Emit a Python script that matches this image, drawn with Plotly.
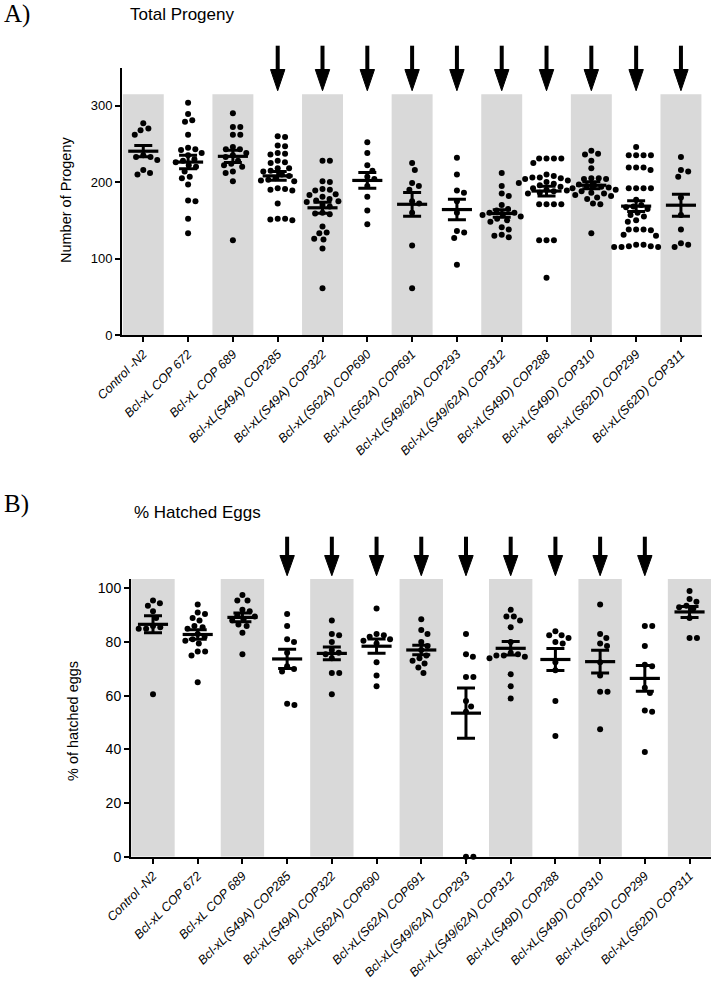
import numpy as np
import plotly.graph_objects as go

# ---------------- data ----------------
categories = ["Control -N2", "Bcl-xL COP 672", "Bcl-xL COP 689", "Bcl-xL(S49A) COP285",
              "Bcl-xL(S49A) COP322", "Bcl-xL(S62A) COP690", "Bcl-xL(S62A) COP691",
              "Bcl-xL(S49/62A) COP293", "Bcl-xL(S49/62A) COP312", "Bcl-xL(S49D) COP288",
              "Bcl-xL(S49D) COP310", "Bcl-xL(S62D) COP299", "Bcl-xL(S62D) COP311"]

# Panel A: total progeny per animal
prog_N2 = [277, 270, 268, 262, 235, 233, 233, 229, 216, 212, 210]
prog_COP672 = [304, 289, 281, 279, 262, 245, 243, 242, 238, 235, 230, 228, 226, 222, 220, 214,
               207, 205, 197, 176, 175, 152, 133]
prog_COP689 = [290, 272, 272, 262, 262, 246, 243, 243, 238, 235, 233, 228, 224, 222, 220, 214,
               212, 201, 124]
prog_COP285 = [260, 259, 248, 247, 238, 237, 236, 228, 226, 225, 218, 218, 215, 214, 210, 208,
               205, 203, 202, 201, 192, 191, 190, 189, 172, 152, 151, 150, 152]
prog_COP322 = [228, 228, 201, 200, 191, 190, 189, 184, 183, 181, 178, 176, 175, 174, 170, 168,
               160, 159, 158, 142, 134, 133, 126, 125, 113, 61]
prog_COP690 = [252, 238, 222, 215, 207, 204, 195, 181, 163, 145]
prog_COP691 = [225, 216, 199, 195, 190, 175, 172, 160, 117, 61]
prog_COP293 = [232, 210, 189, 186, 175, 160, 136, 134, 127, 92]
prog_COP312 = [212, 195, 185, 182, 170, 165, 163, 160, 160, 158, 157, 155, 152, 150, 148, 141,
               138, 131, 130, 128]
prog_COP288 = [231, 231, 231, 231, 225, 210, 208, 206, 206, 205, 204, 202, 200, 199, 198, 196,
               194, 192, 190, 189, 188, 186, 185, 171, 171, 171, 171, 124, 124, 124, 75]
prog_COP310 = [241, 237, 236, 228, 218, 205, 205, 204, 204, 197, 196, 195, 194, 193, 192, 190,
               188, 186, 185, 183, 182, 180, 178, 172, 171, 133]
prog_COP299 = [246, 235, 235, 235, 235, 219, 219, 219, 216, 192, 192, 192, 192, 177, 170, 168,
               167, 165, 160, 157, 155, 150, 148, 138, 138, 138, 137, 131, 130, 118, 116, 115,
               115, 115, 116, 118]
prog_COP311 = [233, 216, 214, 207, 180, 157, 138, 120, 115, 118]

# Panel B: % hatched eggs per animal
hatch_N2 = [95.5, 94.5, 93.5, 91.5, 89, 86, 85.5, 85, 85, 60.5]
hatch_COP672 = [94, 91, 90.5, 89, 88, 86, 85.5, 85, 83, 82, 81, 80.5, 79.5, 76.5, 75, 76.5, 65]
hatch_COP689 = [97.5, 95.5, 95.5, 92, 91.5, 90, 89.5, 88.5, 88, 86.5, 86, 83.5, 75.5]
hatch_COP285 = [90.5, 86, 81, 80, 76, 71, 70, 69, 56.5, 57]
hatch_COP322 = [88, 83, 82.5, 80, 77, 76, 75.5, 74, 68.5, 68.5, 60.5]
hatch_COP690 = [92.5, 83, 82.5, 82, 81, 80.5, 79.5, 72.5, 67.5, 63.5]
hatch_COP691 = [88.5, 84.5, 83, 80, 78.5, 77, 75, 74, 73, 72, 70.5, 68.5]
hatch_COP293 = [83, 75.5, 74.5, 67, 67, 58, 56, 54, 0, 0]
hatch_COP312 = [92, 89.5, 89.5, 88, 85.5, 80, 76, 75.5, 75, 75, 74.5, 74, 68, 63.5, 59]
hatch_COP288 = [84, 82.5, 82.5, 81.5, 80, 79.5, 72.5, 69.5, 58, 45]
hatch_COP310 = [94, 83, 81.5, 79.5, 78.5, 72.5, 67.5, 61.5, 61.5, 47.5]
hatch_COP299 = [86, 86, 78.5, 71.5, 71, 63, 61, 54.5, 54, 39]
hatch_COP311 = [99, 96, 95, 93.5, 93, 92.5, 89, 81.5, 81.5]

# categories flagged with an arrow
arrows_progeny = [False, False, False, True, True, True, True, True, True, True, True, True, True]
arrows_hatch = [False, False, False, True, True, True, True, True, True, True, True, True, False]

progeny_groups = [prog_N2, prog_COP672, prog_COP689, prog_COP285, prog_COP322, prog_COP690,
                  prog_COP691, prog_COP293, prog_COP312, prog_COP288, prog_COP310, prog_COP299,
                  prog_COP311]
hatch_groups = [hatch_N2, hatch_COP672, hatch_COP689, hatch_COP285, hatch_COP322, hatch_COP690,
                hatch_COP691, hatch_COP293, hatch_COP312, hatch_COP288, hatch_COP310,
                hatch_COP299, hatch_COP311]

# ---------------- layout geometry (pixels) ----------------
W, H = 713, 981
FONT = "Arial, Liberation Sans, sans-serif"


def py(px):
    return 1 - px / H


def swarm(vals, xscale, yscale, d=7.4):
    """beeswarm offsets (in category units) so dots do not overlap"""
    vals = np.asarray(vals, float)
    order = np.argsort(-vals, kind="stable")
    placed = []
    off = np.zeros(len(vals))
    for i in order:
        y = vals[i] * yscale
        cands = [0.0]
        for (qx, qy) in placed:
            dy = y - qy
            if abs(dy) < d:
                dx = np.sqrt(d * d - dy * dy)
                cands += [qx + dx, qx - dx]
        cands.sort(key=lambda c: (abs(c), -c))
        for c in cands:
            if all((c - qx) ** 2 + (y - qy) ** 2 >= d * d - 1e-6 for qx, qy in placed):
                break
        placed.append((c, y))
        off[i] = c / xscale
    return off


panels = [
    dict(groups=progeny_groups, arrows=arrows_progeny, xa="x", ya="y",
         xdom=(122, 702), ydom=(335, 68), xrange=(-0.475, 12.47), yrange=(0, 349.3),
         yticks=[0, 100, 200, 300], band_top=315, band_half=0.457,
         arrow_px=(45.7, 69.5, 90.7), tickfont=13),
    dict(groups=hatch_groups, arrows=arrows_hatch, xa="x2", ya="y2",
         xdom=(131, 711), ydom=(856.7, 579), xrange=(-0.492, 12.48), yrange=(0, 103.5),
         yticks=[0, 20, 40, 60, 80, 100], band_top=103.5, band_half=0.485,
         arrow_px=(536.7, 555.5, 575.7), tickfont=14),
]

fig = go.Figure()
shapes = []

for p in panels:
    xpx_per_unit = (p["xdom"][1] - p["xdom"][0]) / (p["xrange"][1] - p["xrange"][0])
    ypx_per_unit = (p["ydom"][0] - p["ydom"][1]) / (p["yrange"][1] - p["yrange"][0])
    xs, ys = [], []
    means, sems = [], []
    for i, g in enumerate(p["groups"]):
        off = swarm(g, xpx_per_unit, ypx_per_unit)
        xs += list(i + off)
        ys += list(g)
        arr = np.asarray(g, float)
        means.append(arr.mean())
        sems.append(arr.std(ddof=1) / np.sqrt(len(arr)))
        # alternating grey bands
        if i % 2 == 0:
            shapes.append(dict(type="rect", xref=p["xa"], yref=p["ya"], layer="below",
                               x0=i - p["band_half"], x1=i + p["band_half"],
                               y0=0, y1=p["band_top"], fillcolor="#d9d9d9", line_width=0))
        # arrows
        if p["arrows"][i]:
            top, head, tip = p["arrow_px"]
            hw = 7.2 / xpx_per_unit
            shapes.append(dict(type="line", xref=p["xa"], yref="paper", x0=i, x1=i,
                               y0=py(top), y1=py(head + 2), line=dict(color="black", width=4)))
            shapes.append(dict(type="path", xref=p["xa"], yref="paper",
                               path=f"M {i - hw},{py(head)} L {i + hw},{py(head)} L {i},{py(tip)} Z",
                               fillcolor="black", line=dict(color="black", width=1)))
    fig.add_trace(go.Scatter(x=xs, y=ys, mode="markers", xaxis=p["xa"], yaxis=p["ya"],
                             marker=dict(size=6, color="black"), cliponaxis=False,
                             showlegend=False, hoverinfo="y"))
    fig.add_trace(go.Scatter(x=list(range(len(p["groups"]))), y=means, mode="markers",
                             xaxis=p["xa"], yaxis=p["ya"], cliponaxis=False, showlegend=False,
                             marker=dict(symbol="line-ew", size=21.5, color="black",
                                         line=dict(color="black", width=3.2)),
                             error_y=dict(type="data", array=sems, visible=True,
                                          color="black", thickness=3, width=9)))

axis_common = dict(showgrid=False, zeroline=False, showline=True, linecolor="black",
                   linewidth=2, ticks="outside", ticklen=5, tickwidth=1.5, tickcolor="black",
                   automargin=False)

for k, p in enumerate(panels):
    sfx = "" if k == 0 else "2"
    fig.update_layout(**{
        "xaxis" + sfx: dict(axis_common, domain=[p["xdom"][0] / W, p["xdom"][1] / W],
                            range=list(p["xrange"]), anchor="y" + sfx,
                            tickmode="array", tickvals=list(range(len(categories))),
                            ticktext=categories, tickangle=-45,
                            tickfont=dict(family=FONT, size=12.5, color="black", style="italic")),
        "yaxis" + sfx: dict(axis_common, domain=[py(p["ydom"][0]), py(p["ydom"][1])],
                            range=list(p["yrange"]), anchor="x" + sfx,
                            tickmode="array", tickvals=p["yticks"],
                            tickfont=dict(family=FONT, size=p["tickfont"], color="black")),
    })

annotations = [
    dict(text="A)", x=2 / W, y=py(14), xanchor="left", yanchor="middle",
         font=dict(family="Liberation Serif, Times New Roman, serif", size=25, color="black")),
    dict(text="Total Progeny", x=182 / W, y=py(15), xanchor="center", yanchor="middle",
         font=dict(family=FONT, size=17, color="black")),
    dict(text="Number of Progeny", x=66 / W, y=py(200), xanchor="center", yanchor="middle",
         textangle=-90, font=dict(family=FONT, size=14.5, color="black")),
    dict(text="B)", x=2 / W, y=py(504), xanchor="left", yanchor="middle",
         font=dict(family="Liberation Serif, Times New Roman, serif", size=25, color="black")),
    dict(text="% Hatched Eggs", x=197 / W, y=py(512), xanchor="center", yanchor="middle",
         font=dict(family=FONT, size=17, color="black")),
    dict(text="% of hatched eggs", x=73 / W, y=py(721), xanchor="center", yanchor="middle",
         textangle=-90, font=dict(family=FONT, size=14.5, color="black")),
]
for a in annotations:
    a.update(xref="paper", yref="paper", showarrow=False)

fig.update_layout(width=W, height=H, margin=dict(l=0, r=0, t=0, b=0, autoexpand=False),
                  paper_bgcolor="white", plot_bgcolor="white",
                  shapes=shapes, annotations=annotations, showlegend=False)

fig.write_html("out.html", config={"displayModeBar": False},
               post_script="document.body.style.margin='0';")
